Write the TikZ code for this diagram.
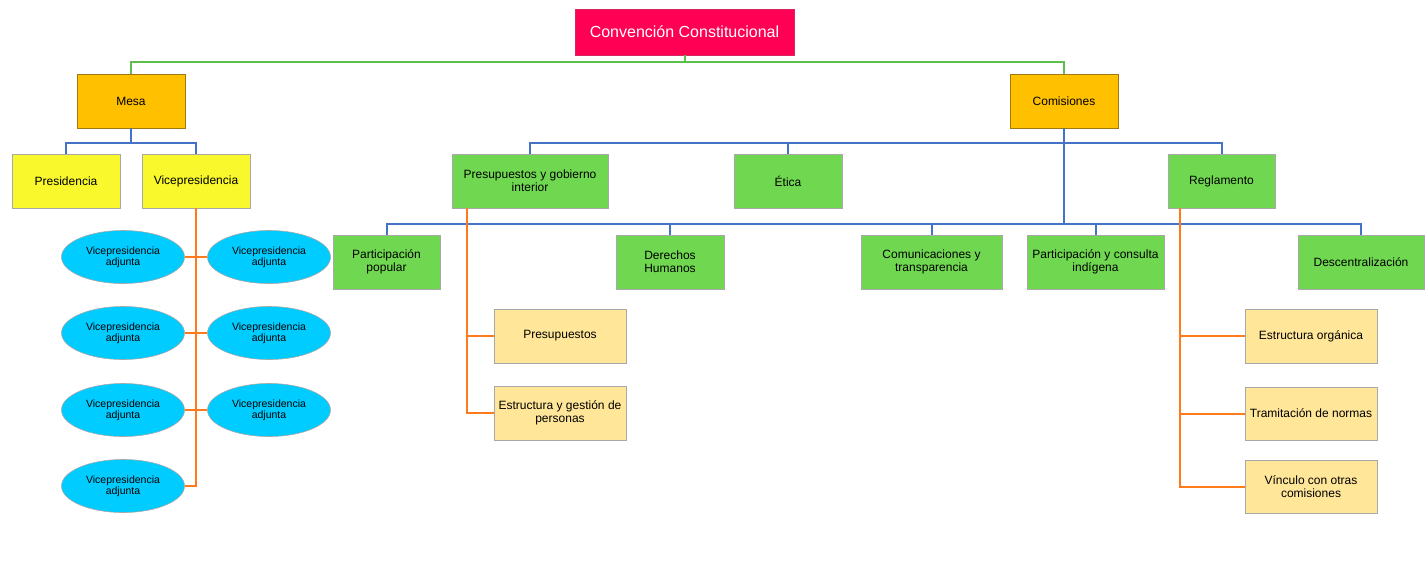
\documentclass[tikz,border=0pt]{standalone}
\usepackage{fontspec}
\setmainfont{Liberation Sans}
\usetikzlibrary{shapes.geometric,calc}
\definecolor{cred}{HTML}{FF0055}
\definecolor{corange}{HTML}{FFC000}
\definecolor{cyel}{HTML}{F8F82C}
\definecolor{cgreen}{HTML}{70D850}
\definecolor{clight}{HTML}{FFE699}
\definecolor{ccyan}{HTML}{00CCFF}
\definecolor{lgreen}{HTML}{5CBF4C}
\definecolor{lblue}{HTML}{4472C4}
\definecolor{lorange}{HTML}{FF7A1A}
\definecolor{bgray}{HTML}{A8A8A8}
\definecolor{bbrown}{HTML}{A07A10}
\begin{document}
\begin{tikzpicture}[x=1pt,y=-1pt,
  sz/.style 2 args={minimum width=#1pt, minimum height=#2pt},
  box/.style={draw=bgray, line width=0.8pt, inner sep=1pt, align=center, text=black,
    font=\fontsize{12}{12.8}\selectfont},
  topbox/.style={box, fill=cred, text=white, draw=cred!70!gray, font=\fontsize{16}{17}\selectfont},
  midbox/.style={box, fill=corange, draw=bbrown},
  yelbox/.style={box, fill=cyel},
  grnbox/.style={box, fill=cgreen},
  ltbox/.style={box, fill=clight},
  ell/.style={ellipse, draw=bgray, line width=0.6pt, fill=ccyan, inner sep=0pt, align=center,
    minimum width=123pt, minimum height=53pt, font=\fontsize{10.5}{11.2}\selectfont},
  gline/.style={draw=lgreen, line width=2pt},
  bline/.style={draw=lblue, line width=2pt},
  oline/.style={draw=lorange, line width=2pt}
]
\useasboundingbox (0,0) rectangle (1428,574);

% nodes
\node[topbox, sz={219}{46}] (conv) at (684.5,32) {Convención Constitucional};
\node[midbox, sz={108}{54}] (mesa) at (131,101) {Mesa};
\node[midbox, sz={108}{54}] (comi) at (1064,101) {Comisiones};
\node[yelbox, sz={108}{54}] (pres) at (66,181) {Presidencia};
\node[yelbox, sz={108}{54}] (vice) at (196,181) {Vicepresidencia};

\node[ell] (L1) at (123,257) {Vicepresidencia\\adjunta};
\node[ell] (L2) at (123,333) {Vicepresidencia\\adjunta};
\node[ell] (L3) at (123,410) {Vicepresidencia\\adjunta};
\node[ell] (L4) at (123,486) {Vicepresidencia\\adjunta};
\node[ell] (R1) at (269,257) {Vicepresidencia\\adjunta};
\node[ell] (R2) at (269,333) {Vicepresidencia\\adjunta};
\node[ell] (R3) at (269,410) {Vicepresidencia\\adjunta};

\node[grnbox, sz={156}{54}] (pgi) at (530,181) {Presupuestos y gobierno\\interior};
\node[grnbox, sz={108}{54}] (etica) at (788,181) {Ética};
\node[grnbox, sz={107}{54}] (regl) at (1221.5,181) {Reglamento};

\node[grnbox, sz={107}{54}] (pp) at (386.5,262) {Participación\\popular};
\node[grnbox, sz={108}{54}] (dh) at (670,262) {Derechos\\Humanos};
\node[grnbox, sz={141}{54}] (ct) at (931.5,262) {Comunicaciones y\\transparencia};
\node[grnbox, sz={137}{54}] (pci) at (1095.5,262) {Participación y consulta\\indígena};
\node[grnbox, sz={126}{54}] (desc) at (1361,262) {Descentralización};

\node[ltbox, sz={132}{54}] (presu) at (560,336) {Presupuestos};
\node[ltbox, sz={132}{54}] (estg) at (560,413) {Estructura y gestión de\\personas};
\node[ltbox, sz={132}{54}] (eo) at (1311,336) {Estructura orgánica};
\node[ltbox, sz={132}{53}] (tn) at (1311,413.5) {Tramitación de normas};
\node[ltbox, sz={132}{53}] (vco) at (1311,486.5) {Vínculo con otras\\comisiones};

% green connectors
\coordinate (g) at (684.5,62);
\draw[gline] (conv.south) -- (g);
\draw[gline] (mesa.north) |- (g) -| (comi.north);

% blue: Mesa
\coordinate (mb) at (131,143);
\draw[bline] (mesa.south) -- (mb);
\draw[bline] (pres.north) |- (mb) -| (vice.north);

% orange: Vicepresidencia
\draw[oline] (vice.south) |- (L4.east);
\draw[oline] (L1.east) -- (R1.west);
\draw[oline] (L2.east) -- (R2.west);
\draw[oline] (L3.east) -- (R3.west);

% blue: Comisiones
\coordinate (c1) at (1064,143);
\coordinate (c2) at (1064,224);
\draw[bline] (comi.south) -- (c2);
\draw[bline] (pgi.north) |- (c1) -| (regl.north);
\draw[bline] (etica.north) -- (etica.north |- c1);
\draw[bline] (pp.north) |- (c2) -| (desc.north);
\draw[bline] (dh.north) -- (dh.north |- c2);
\draw[bline] (ct.north) -- (ct.north |- c2);
\draw[bline] (pci.north) -- (pci.north |- c2);

% orange: Presupuestos y gobierno interior
\coordinate (po) at ($(pgi.south)+(-63,0)$);
\draw[oline] (po) |- (estg.west);
\draw[oline] (presu.west) -- (presu.west -| po);

% orange: Reglamento
\coordinate (ro) at ($(regl.south)+(-41.5,0)$);
\draw[oline] (ro) |- (vco.west);
\draw[oline] (eo.west) -- (eo.west -| ro);
\draw[oline] (tn.west) -- (tn.west -| ro);
\end{tikzpicture}
\end{document}
